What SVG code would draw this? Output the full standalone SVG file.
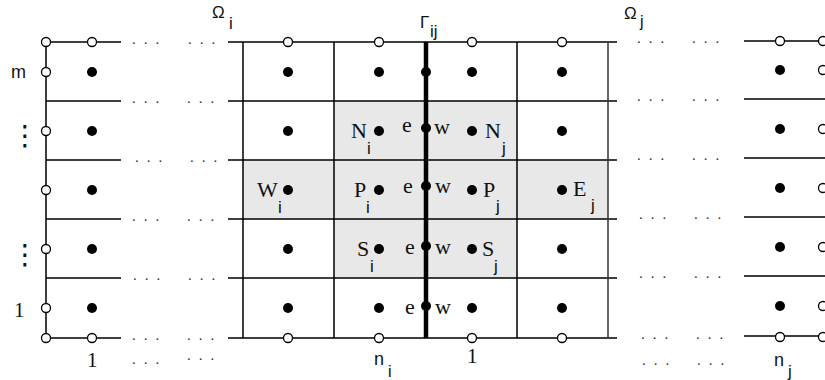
<svg xmlns="http://www.w3.org/2000/svg" width="825" height="380" viewBox="0 0 825 380">
<style>
.g{stroke:#000;stroke-width:1.5;fill:none}
.gv{stroke:#333;stroke-width:1.5;fill:none}
.th{stroke:#000;stroke-width:4.5;fill:none}
.sh{fill:#e8e8e8;stroke:none}
.fd{fill:#000}
.od{fill:#fff;stroke:#000;stroke-width:1.3}
.s{font-family:"Liberation Serif",serif;font-size:22px;fill:#111}
.ss{font-family:"Liberation Sans",sans-serif;font-size:17px;fill:#111}
.sub{font-family:"Liberation Sans",sans-serif;font-size:17px;fill:#111}
.dt{font-family:"Liberation Serif",serif;font-size:15px;fill:#333;letter-spacing:8px}
.vd{font-family:"DejaVu Sans",sans-serif;font-size:28px;fill:#111}
</style>
<rect width="825" height="380" fill="#fff"/>
<g id="shading">
<rect class="sh" x="334" y="101" width="183" height="177"/>
<rect class="sh" x="243" y="160" width="365" height="59"/>
</g>
<g id="connectors">
<path class="g" d="M46 42H121M46 101H121M46 160H121M46 219H121M46 278H121M46 338H121M46 42V338"/>
<path class="g" d="M228 42H617M228 101H617M228 160H617M228 219H617M228 278H617M228 338H617"/>
<path class="g" d="M243 42V338M334 42V338M517 42V338"/>
<path class="gv" d="M608 42V338"/>
<path class="th" d="M426 42V338"/>
<path class="g" d="M744 41H825M744 99H825M744 158H825M744 217H825M744 276H825M744 336H825"/>
</g>
<g id="ellipses">
<text class="dt" x="132" y="44">...</text><text class="dt" x="188" y="44">...</text>
<text class="dt" x="132" y="103">...</text><text class="dt" x="187" y="103">...</text>
<text class="dt" x="135" y="162">...</text><text class="dt" x="190" y="162">...</text>
<text class="dt" x="132" y="221">...</text><text class="dt" x="187" y="221">...</text>
<text class="dt" x="133" y="280">...</text><text class="dt" x="188" y="280">...</text>
<text class="dt" x="132" y="340">...</text><text class="dt" x="187" y="340">...</text>
<text class="dt" x="637" y="43">...</text><text class="dt" x="692" y="43">...</text>
<text class="dt" x="637" y="101">...</text><text class="dt" x="692" y="101">...</text>
<text class="dt" x="637" y="160">...</text><text class="dt" x="692" y="160">...</text>
<text class="dt" x="639" y="219">...</text><text class="dt" x="694" y="219">...</text>
<text class="dt" x="639" y="278">...</text><text class="dt" x="694" y="278">...</text>
<text class="dt" x="641" y="339">...</text><text class="dt" x="696" y="339">...</text>
<text class="dt" x="132" y="364">...</text><text class="dt" x="187" y="360">...</text>
<text class="dt" x="642" y="365">...</text><text class="dt" x="697" y="365">...</text>
</g>
<g id="open-nodes">
<circle class="od" cx="46" cy="42" r="4.5"/><circle class="od" cx="92" cy="42" r="4.5"/>
<circle class="od" cx="46" cy="72" r="4.5"/><circle class="od" cx="46" cy="131" r="4.5"/>
<circle class="od" cx="46" cy="190" r="4.5"/><circle class="od" cx="46" cy="249" r="4.5"/>
<circle class="od" cx="46" cy="308" r="4.5"/>
<circle class="od" cx="46" cy="338" r="4.5"/><circle class="od" cx="92" cy="338" r="4.5"/>
<circle class="od" cx="288" cy="42" r="4.5"/><circle class="od" cx="379" cy="42" r="4.5"/>
<circle class="od" cx="472" cy="42" r="4.5"/><circle class="od" cx="562" cy="42" r="4.5"/>
<circle class="od" cx="288" cy="338" r="4.5"/><circle class="od" cx="379" cy="338" r="4.5"/>
<circle class="od" cx="472" cy="338" r="4.5"/><circle class="od" cx="562" cy="338" r="4.5"/>
<circle class="od" cx="780" cy="41" r="4.5"/><circle class="od" cx="823" cy="41" r="4.5"/>
<circle class="od" cx="823" cy="70" r="4.5"/><circle class="od" cx="823" cy="129" r="4.5"/>
<circle class="od" cx="823" cy="188" r="4.5"/><circle class="od" cx="823" cy="247" r="4.5"/>
<circle class="od" cx="823" cy="306" r="4.5"/>
<circle class="od" cx="780" cy="337" r="4.5"/><circle class="od" cx="823" cy="337" r="4.5"/>
</g>
<g id="cell-nodes">
<circle class="fd" cx="92" cy="72" r="5"/><circle class="fd" cx="92" cy="131" r="5"/>
<circle class="fd" cx="92" cy="190" r="5"/><circle class="fd" cx="92" cy="249" r="5"/>
<circle class="fd" cx="92" cy="308" r="5"/>
<circle class="fd" cx="288" cy="72" r="5"/><circle class="fd" cx="379" cy="72" r="5"/>
<circle class="fd" cx="472" cy="72" r="5"/><circle class="fd" cx="562" cy="72" r="5"/>
<circle class="fd" cx="288" cy="131" r="5"/><circle class="fd" cx="379" cy="131" r="5"/>
<circle class="fd" cx="472" cy="131" r="5"/><circle class="fd" cx="562" cy="131" r="5"/>
<circle class="fd" cx="288" cy="190" r="5"/><circle class="fd" cx="379" cy="190" r="5"/>
<circle class="fd" cx="472" cy="190" r="5"/><circle class="fd" cx="562" cy="190" r="5"/>
<circle class="fd" cx="288" cy="249" r="5"/><circle class="fd" cx="379" cy="249" r="5"/>
<circle class="fd" cx="472" cy="249" r="5"/><circle class="fd" cx="562" cy="249" r="5"/>
<circle class="fd" cx="288" cy="308" r="5"/><circle class="fd" cx="379" cy="308" r="5"/>
<circle class="fd" cx="472" cy="308" r="5"/><circle class="fd" cx="562" cy="308" r="5"/>
<circle class="fd" cx="780" cy="70" r="5"/><circle class="fd" cx="780" cy="129" r="5"/>
<circle class="fd" cx="780" cy="188" r="5"/><circle class="fd" cx="780" cy="247" r="5"/>
<circle class="fd" cx="780" cy="306" r="5"/>
</g>
<g id="interface-nodes">
<circle class="fd" cx="426" cy="72" r="5"/><circle class="fd" cx="426" cy="128" r="5"/>
<circle class="fd" cx="426" cy="186" r="5"/><circle class="fd" cx="426" cy="246" r="5"/>
<circle class="fd" cx="426" cy="306" r="5"/>
</g>
<g id="labels">
<text class="ss" x="212" y="18">Ω</text><text class="sub" x="229" y="29">i</text>
<text class="ss" x="420" y="28">Γ</text><text class="sub" x="430" y="37">ij</text>
<text class="ss" x="624" y="19">Ω</text><text class="sub" x="640" y="27" style="font-size:16px">j</text>
<text class="ss" x="11" y="78" style="font-size:18px">m</text>
<text class="vd" x="11" y="145">⋮</text>
<text class="vd" x="11" y="264">⋮</text>
<text class="s" x="14" y="317" style="font-size:21px">1</text>
<text class="s" x="87" y="367" style="font-size:21px">1</text>
<text class="ss" x="374" y="365" style="font-size:18px">n</text><text class="sub" x="388" y="377" style="font-size:16px">i</text>
<text class="s" x="467" y="363" style="font-size:21px">1</text>
<text class="ss" x="774" y="366" style="font-size:18px">n</text><text class="sub" x="788" y="377">j</text>
<text class="s" x="351" y="138">N</text><text class="sub" x="367" y="154">i</text>
<text class="s" x="402" y="132">e</text><text class="s" x="434" y="134">w</text>
<text class="s" x="485" y="138">N</text><text class="sub" x="502" y="154">j</text>
<text class="s" x="257" y="197">W</text><text class="sub" x="278" y="213">i</text>
<text class="s" x="354" y="197">P</text><text class="sub" x="366" y="213">i</text>
<text class="s" x="403" y="193">e</text><text class="s" x="435" y="193">w</text>
<text class="s" x="483" y="197">P</text><text class="sub" x="496" y="212">j</text>
<text class="s" x="573" y="196">E</text><text class="sub" x="591" y="211">j</text>
<text class="s" x="357" y="256">S</text><text class="sub" x="370" y="272">i</text>
<text class="s" x="405" y="254">e</text><text class="s" x="435" y="254">w</text>
<text class="s" x="482" y="256">S</text><text class="sub" x="494" y="272">j</text>
<text class="s" x="405" y="314">e</text><text class="s" x="435" y="314">w</text>
</g>
</svg>
